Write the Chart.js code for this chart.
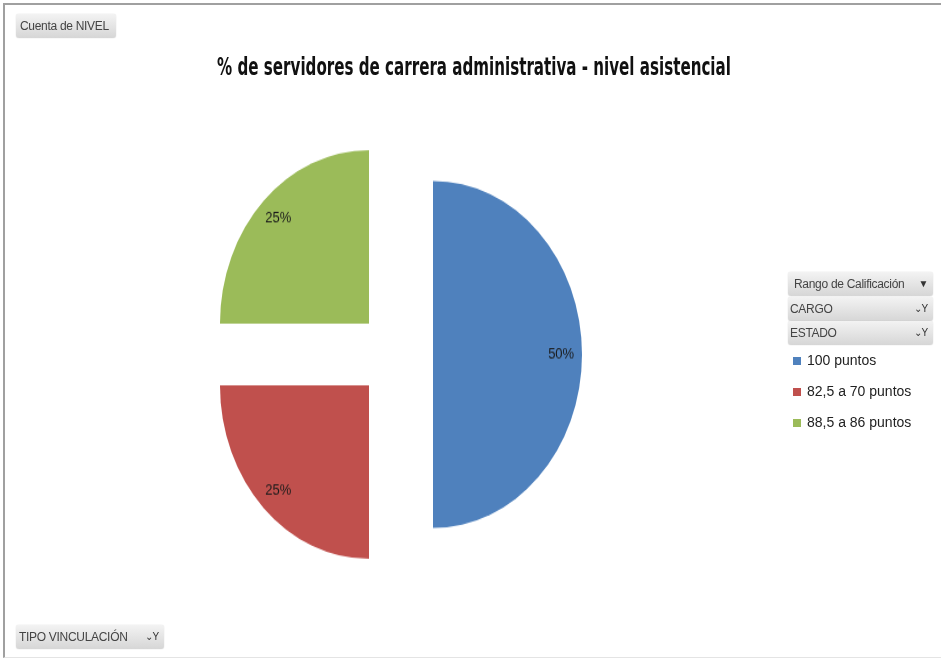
<!DOCTYPE html>
<html>
<head>
<meta charset="utf-8">
<script src="https://cdn.jsdelivr.net/npm/chart.js@4.4.0/dist/chart.umd.min.js"></script>
<style>
html,body{margin:0;padding:0;background:#fff;overflow:hidden}
#frame{position:relative;width:941px;height:659px;overflow:hidden;font-family:"Liberation Sans",Arial,sans-serif}
#frame:before{content:'';position:absolute;left:3px;top:3px;right:0;bottom:1px;border-left:2px solid #a0a0a0;border-top:2px solid #a0a0a0;border-bottom:1px solid #e4e4e4;pointer-events:none}
.btn{position:absolute;height:24px;line-height:24px;box-sizing:border-box;padding:0 4px;border-radius:3px;
  background:linear-gradient(#f3f3f3,#d6d6d6);box-shadow:0 0 1px #bbb;color:#444;font-size:12px;letter-spacing:-.3px;white-space:nowrap;z-index:2}
.btn .ic{position:absolute;right:5px;top:0;font-size:10px;color:#333}
#ttl{position:absolute;left:0;width:948px;top:52px;text-align:center;font:bold 20px "Liberation Sans Narrow","DejaVu Sans Condensed","Liberation Sans",sans-serif;color:#111;transform:scale(0.84,1.2);transform-origin:474px 0;z-index:2}
#pieWrap{position:absolute;left:0;top:0;width:791px;height:609px;transform:scaleY(1.164);transform-origin:0 0}
#lg{position:absolute;left:793px;top:349px;font-size:14px;color:#222;z-index:2}
#lg div{height:31px;line-height:22px;white-space:nowrap}
#lg i{display:inline-block;width:8px;height:8px;margin-right:6px;vertical-align:0}
</style>
</head>
<body>
<div id="frame">
  <div class="btn" style="left:16px;top:14px;width:100px">Cuenta de NIVEL</div>
  <div id="ttl">% de servidores de carrera administrativa - nivel asistencial</div>
  <div id="pieWrap"><canvas id="pie"></canvas></div>
  <div class="btn" style="left:788px;top:272px;width:145px;padding-left:6px">Rango de Calificación<span class="ic">▼</span></div>
  <div class="btn" style="left:788px;top:297px;width:145px;padding-left:2px">CARGO<span class="ic">⌄Y</span></div>
  <div class="btn" style="left:788px;top:321px;width:145px;padding-left:2px">ESTADO<span class="ic">⌄Y</span></div>
  <div id="lg"></div>
  <div class="btn" style="left:16px;top:625px;width:148px;padding-left:3px">TIPO VINCULACIÓN<span class="ic">⌄Y</span></div>
</div>
<script>
const LABELS = ['100 puntos', '82,5 a 70 puntos', '88,5 a 86 puntos'];
const VALUES = [50, 25, 25];
const COLORS = ['#4F81BD', '#C0504D', '#9BBB59'];

// arcs with circumference >= PI get an extra radius from Chart.js when offset; undo it
function radiusShift(arc){
  const off = (arc.options.offset || 0) / 4;
  return off * (1 - Math.sin(Math.min(Math.PI, arc.circumference || 0)));
}

const evenExplode = {
  id: 'evenExplode',
  afterDatasetUpdate(chart, args){
    args.meta.data.forEach(arc=>{
      const r = radiusShift(arc);
      if(!r) return;
      const R = arc.outerRadius;
      arc.outerRadius = R - r;
      const a = r / Math.PI / R / 2;
      arc.startAngle -= a;
      arc.endAngle += a;
    });
  }
};

const pctLabels = {
  id: 'pctLabels',
  afterDatasetsDraw(chart){
    const ctx = chart.ctx;
    const meta = chart.getDatasetMeta(0);
    const total = VALUES.reduce((a,b)=>a+b,0);
    ctx.save();
    ctx.font = '13px "Liberation Sans", Arial, sans-serif';
    ctx.fillStyle = '#1b1b1b';
    ctx.textAlign = 'center';
    ctx.textBaseline = 'middle';
    meta.data.forEach((arc,i)=>{
      const s = arc.startAngle, e = arc.endAngle;
      const mid = (s + e) / 2;
      const off = (arc.options.offset || 0) / 4;
      const R = arc.outerRadius + radiusShift(arc);
      const d = off + R * 0.86;
      ctx.fillText(Math.round(VALUES[i] / total * 100) + '%', arc.x + Math.cos(mid) * d, arc.y + Math.sin(mid) * d);
    });
    ctx.restore();
  }
};

new Chart(document.getElementById('pie').getContext('2d'), {
  type: 'pie',
  data: {
    labels: LABELS,
    datasets: [{
      data: VALUES,
      backgroundColor: COLORS,
      borderWidth: 0,
      offset: 150,
      hoverOffset: 0,
      radius: 149
    }]
  },
  options: {
    responsive: true,
    maintainAspectRatio: false,
    animation: false,
    events: [],
    layout: {padding: 0},
    plugins: {legend: {display: false}, tooltip: {enabled: false}, title: {display: false}}
  },
  plugins: [evenExplode, pctLabels]
});

document.getElementById('lg').innerHTML = LABELS.map((t,i)=>
  `<div><i style="background:${COLORS[i]}"></i>${t}</div>`).join('');
</script>
</body>
</html>
